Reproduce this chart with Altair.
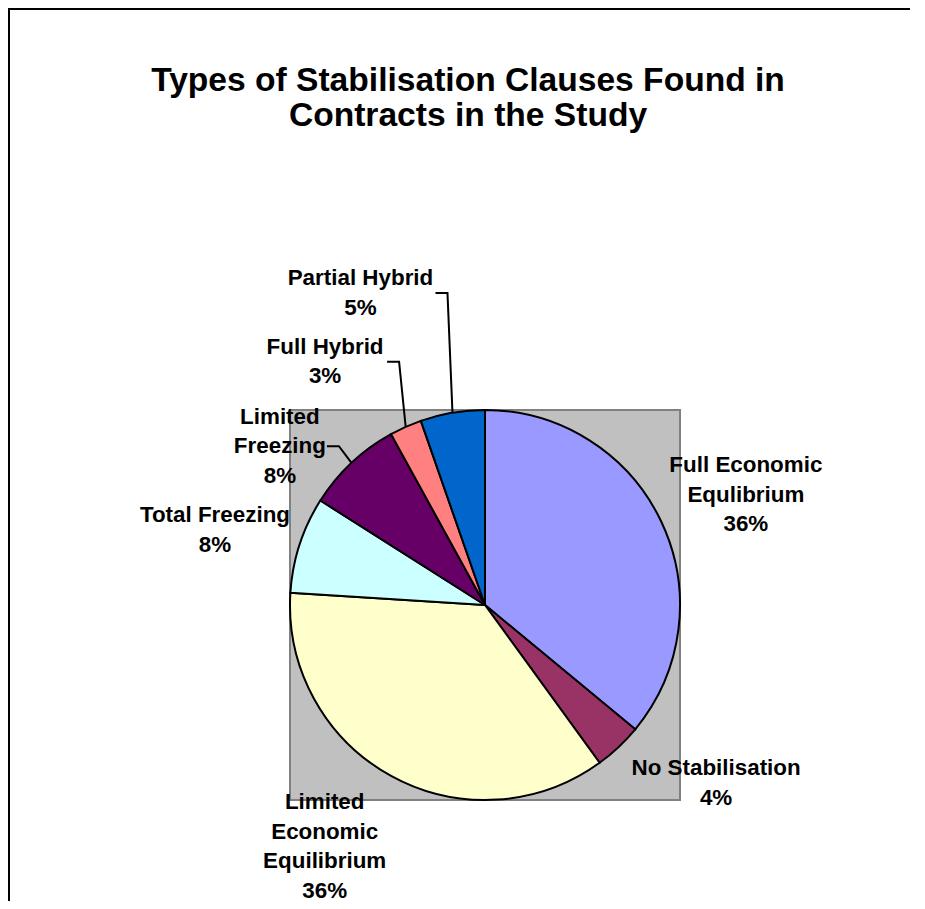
import math
import altair as alt
import pandas as pd

# ---------------- data ----------------
categories = ["Full Economic Equilibrium", "No Stabilisation", "Limited Economic Equilibrium",
              "Total Freezing", "Limited Freezing", "Full Hybrid", "Partial Hybrid"]
label_text = ["Full Economic\nEqulibrium", "No Stabilisation", "Limited\nEconomic\nEquilibrium",
              "Total Freezing", "Limited\nFreezing", "Full Hybrid", "Partial Hybrid"]
counts = [27, 3, 27, 6, 6, 2, 4]
colors = ["#9999FF", "#993366", "#FFFFCC", "#CCFFFF", "#660066", "#FF8080", "#0066CC"]
title_lines = ["Types of Stabilisation Clauses Found in", "Contracts in the Study"]

# ---------------- layout (pixels) ----------------
PLOT = 390
R_PIE = 195
LABEL_R = 285
FONT = "Liberation Sans"
LH = 29.5
PAD_L, PAD_T = 282, 402
# label-block-centre nudges from the slice's mid-angle point at LABEL_R
LABEL_NUDGE = {
    "Full Economic Equilibrium": (3, 11),
    "No Stabilisation": (36, -30),
    "Limited Economic Equilibrium": (-23, -8),
    "Total Freezing": (1, 13),
    "Limited Freezing": (-10, 49),
    "Full Hybrid": (-44, 17),
    "Partial Hybrid": (-77, -31),
}
# leader lines: horizontal start offset from label centre
LEADER_END = {"Limited Freezing": 47, "Full Hybrid": 62, "Partial Hybrid": 75}
ELBOW = 12

total = sum(counts)
rows = []
acc = 0
for c, lab, n in zip(categories, label_text, counts):
    rows.append(dict(category=c, label=lab + "\n" + f"{round(100 * n / total)}%",
                     start=acc, end=acc + n, mid=acc + n / 2, count=n))
    acc += n
df = pd.DataFrame(rows)

# leader line points (pixel offsets from pie centre, y downward), from slice mid-angles
lrows = []
for r in rows:
    c = r["category"]
    if c not in LEADER_END:
        continue
    m = r["mid"] / total * 2 * math.pi
    dx, dy = LABEL_NUDGE[c]
    lx = LABEL_R * math.sin(m) + dx
    ly = -LABEL_R * math.cos(m) + dy
    ex = lx + LEADER_END[c]
    pts = [(ex, ly), (ex + ELBOW, ly), (R_PIE * math.sin(m), -R_PIE * math.cos(m))]
    for i, (px, py) in enumerate(pts):
        lrows.append(dict(category=c, step=i, px=px, py=py))
ldf = pd.DataFrame(lrows)

theta_scale = alt.Scale(domain=[0, total], range=[0, 2 * math.pi])

base = alt.Chart(df)

arcs = base.mark_arc(radius=R_PIE, stroke="black", strokeWidth=2).encode(
    theta=alt.Theta("start:Q", scale=theta_scale),
    theta2="end:Q",
    color=alt.Color("category:N", scale=alt.Scale(domain=categories, range=colors), legend=None),
)

text_layers = []
for r in rows:
    c = r["category"]
    dx, dy = LABEL_NUDGE[c]
    nlines = r["label"].count("\n") + 1
    t = base.transform_filter(alt.datum.category == c).mark_text(
        radius=LABEL_R, dx=dx, dy=dy - (nlines - 1) * LH / 2, font=FONT, fontSize=22.4,
        fontWeight="bold", color="black", align="center", baseline="middle",
        lineBreak="\n", lineHeight=LH,
    ).encode(
        theta=alt.Theta("mid:Q", scale=theta_scale),
        text="label:N",
    )
    text_layers.append(t)

half = PLOT / 2
leaders = alt.Chart(ldf).mark_line(color="black", strokeWidth=2).encode(
    x=alt.X("px:Q", scale=alt.Scale(domain=[-half, half], range=[0, PLOT]), axis=None),
    y=alt.Y("py:Q", scale=alt.Scale(domain=[-half, half], range=[0, PLOT]), axis=None),
    detail="category:N",
    order="step:Q",
)

one = pd.DataFrame({"title": ["\n".join(title_lines)]})
title = alt.Chart(one).mark_text(
    font=FONT, fontSize=33.6, fontWeight="bold", color="black", align="center",
    baseline="middle", lineBreak="\n", lineHeight=35,
).encode(
    text="title:N",
    x=alt.value(468 - 8 - PAD_L),
    y=alt.value(81 - 8 - PAD_T),
)

border = alt.Chart(one).mark_rect(
    fillOpacity=0, stroke="black", strokeWidth=2
).encode(
    x=alt.value(1 - PAD_L), x2=alt.value(1200),
    y=alt.value(1 - PAD_T), y2=alt.value(1200),
)

chart = alt.layer(arcs, *text_layers, leaders, title, border).properties(
    width=PLOT,
    height=PLOT,
    autosize=alt.AutoSizeParams(type="none"),
    padding={"left": PAD_L, "top": PAD_T, "right": 230, "bottom": 101},
    background="white",
).configure_view(
    fill="#C0C0C0", stroke="#808080", strokeWidth=2
)

chart.save("out.html", embed_options={"renderer": "svg", "actions": False})
